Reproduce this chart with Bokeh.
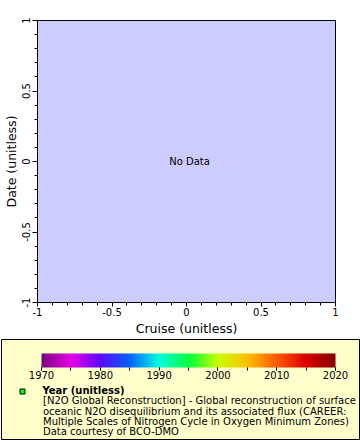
import numpy as np
from bokeh.plotting import figure
from bokeh.models import (Range1d, SingleIntervalTicker, NumeralTickFormatter,
                          Label, LinearColorMapper, ColorBar)
from bokeh.layouts import column
from bokeh.embed import file_html
from bokeh.resources import INLINE

# ---------------- data ----------------
x_ticks = [-1, -0.5, 0, 0.5, 1]
x_tick_labels = ["-1", "-0.5", "0", "0.5", "1"]
y_ticks = [-1, -0.5, 0, 0.5, 1]
y_tick_labels = ["-1", "-0.5", "0", "0.5", "1"]
x_label = "Cruise (unitless)"
y_label = "Date (unitless)"
no_data_text = "No Data"
color_low = 1970
color_high = 2020
color_ticks = [1970, 1980, 1990, 2000, 2010, 2020]
legend_title = "Year (unitless)"
legend_lines = [
    "[N2O Global Reconstruction] - Global reconstruction of surface",
    "oceanic N2O disequilibrium and its associated flux (CAREER:",
    "Multiple Scales of Nitrogen Cycle in Oxygen Minimum Zones)",
    "Data courtesy of BCO-DMO",
]

# ---------------- style ----------------
FONT = "DejaVu Sans"
anchors = ["#800080", "#e600e6", "#5a0aff", "#0064ff", "#00ffdc", "#00ff3c",
           "#c8ff00", "#ffbe00", "#ff5a00", "#dc0000", "#800000"]


def hex2rgb(h):
    return np.array([int(h[i:i + 2], 16) for i in (1, 3, 5)], dtype=float)


def build_palette(cols, n=256):
    rgb = np.array([hex2rgb(c) for c in cols])
    pos = np.linspace(0, 1, len(cols))
    t = np.linspace(0, 1, n)
    out = []
    for v in t:
        r = np.interp(v, pos, rgb[:, 0])
        g = np.interp(v, pos, rgb[:, 1])
        b = np.interp(v, pos, rgb[:, 2])
        out.append("#%02x%02x%02x" % (int(round(r)), int(round(g)), int(round(b))))
    return out


palette = build_palette(anchors)

# ---------------- main plot ----------------
p = figure(width=360, height=338, output_backend="svg", toolbar_location=None,
           x_range=Range1d(x_ticks[0], x_ticks[-1]),
           y_range=Range1d(y_ticks[0], y_ticks[-1]),
           min_border_left=37, min_border_right=25,
           min_border_top=20, min_border_bottom=36)
p.frame_align = False
p.background_fill_color = "#ccccff"
p.border_fill_color = "white"
p.outline_line_color = "black"
p.outline_line_alpha = 1
p.grid.visible = False

xa = p.xaxis[0]
xa.ticker = SingleIntervalTicker(interval=0.5, num_minor_ticks=5)
xa.formatter = NumeralTickFormatter(format="0.[0]")
xa.major_label_overrides = {t: l for t, l in zip(x_ticks, x_tick_labels)}
xa.axis_label = x_label
xa.axis_label_text_font = FONT
xa.axis_label_text_font_size = "12.5px"
xa.axis_label_text_font_style = "normal"
xa.axis_label_text_color = "black"
xa.axis_label_standoff = 2
xa.major_label_text_font = FONT
xa.major_label_text_font_size = "10px"
xa.major_label_text_color = "black"
xa.major_label_standoff = 1
xa.major_tick_out = 4
xa.major_tick_in = 0
xa.minor_tick_out = 3
xa.minor_tick_in = 0
xa.axis_line_color = "black"
xa.major_tick_line_color = "black"
xa.minor_tick_line_color = "black"

ya = p.yaxis[0]
ya.ticker = SingleIntervalTicker(interval=0.5, num_minor_ticks=5)
ya.formatter = NumeralTickFormatter(format="0.[0]")
ya.major_label_overrides = {t: l for t, l in zip(y_ticks, y_tick_labels)}
ya.major_label_orientation = "vertical"
ya.major_label_text_font = FONT
ya.major_label_text_font_size = "10px"
ya.major_label_text_color = "black"
ya.major_label_standoff = 3
ya.major_tick_out = 5
ya.major_tick_in = 0
ya.minor_tick_out = 3
ya.minor_tick_in = 0
ya.axis_line_color = "black"
ya.major_tick_line_color = "black"
ya.minor_tick_line_color = "black"
ya.axis_label = y_label
ya.axis_label_text_font = FONT
ya.axis_label_text_font_size = "12.5px"
ya.axis_label_text_font_style = "normal"
ya.axis_label_text_color = "black"
ya.axis_label_standoff = 0

# "No Data" message in the middle of the plot
p.add_layout(Label(x=0, y=0, text=no_data_text, text_align="center",
                   text_baseline="alphabetic", x_offset=3,
                   text_font=FONT, text_font_size="10px", text_color="black"))

# ---------------- legend box ----------------
# frame = the legend box; data units of this panel are page pixels
leg = figure(width=360, height=102, output_backend="svg", toolbar_location=None,
             x_range=Range1d(1, 360), y_range=Range1d(439, 339),
             x_axis_location=None, y_axis_location=None,
             min_border_left=1, min_border_right=0,
             min_border_top=1, min_border_bottom=1)
leg.frame_align = False
leg.background_fill_color = "#ffffcc"
leg.border_fill_color = "white"
leg.outline_line_color = "black"
leg.outline_line_alpha = 1
leg.grid.visible = False

mapper = LinearColorMapper(palette=palette, low=color_low, high=color_high)
cb = ColorBar(color_mapper=mapper, orientation="horizontal",
              width=294, height=14, location=(40, 58), padding=0,
              ticker=SingleIntervalTicker(interval=10, num_minor_ticks=2),
              major_label_overrides={t: str(t) for t in color_ticks},
              major_tick_out=3, major_tick_in=0,
              minor_tick_out=3, minor_tick_in=0,
              major_tick_line_color="black", minor_tick_line_color="black",
              label_standoff=0, major_label_text_font=FONT,
              major_label_text_font_size="10px",
              major_label_text_color="black",
              bar_line_color=None, border_line_color=None,
              background_fill_alpha=0)
leg.add_layout(cb, "center")

# legend swatch
leg.scatter(x=[22], y=[391], marker="square", size=5,
            fill_color="#00ff00", line_color="black", line_width=1)

leg.text(x=[42], y=[390], text=[legend_title], text_baseline="middle",
         text_font={"value": FONT}, text_font_size="10px",
         text_font_style="bold", text_color="black")
leg.text(x=[42.5] * len(legend_lines),
         y=[390 + 10.35 * (i + 1) for i in range(len(legend_lines))],
         text=legend_lines, text_baseline="middle",
         text_font={"value": FONT}, text_font_size="10px",
         text_color="black")

layout = column(p, leg, spacing=0)
open("out.html", "w").write(file_html(layout, INLINE))
